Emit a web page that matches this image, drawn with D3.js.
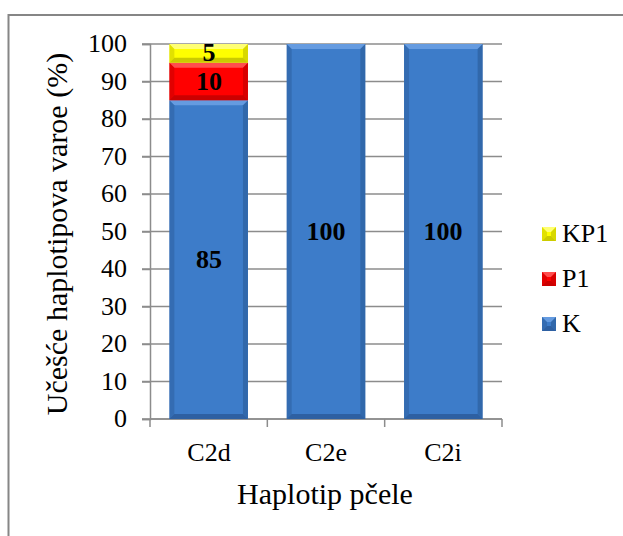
<!DOCTYPE html>
<html><head><meta charset="utf-8">
<script src="https://cdn.jsdelivr.net/npm/d3@7"></script>
<style>
html,body{margin:0;padding:0;background:#fff;}
#wrap{position:relative;width:623px;height:536px;overflow:hidden;}
#wrap svg{position:absolute;left:0;top:0;display:block;}
.lbl{position:absolute;font-family:"Liberation Serif","Times New Roman",serif;font-size:28px;line-height:1;white-space:nowrap;color:#000;transform-origin:0 0;}
</style></head>
<body>
<div id="wrap"><svg id="c" width="623" height="536"></svg></div>
<script>
const categories = ["C2d","C2e","C2i"];
const seriesNames = ["K","P1","KP1"];
const valuesK   = [85,100,100];
const valuesP1  = [10,0,0];
const valuesKP1 = [5,0,0];
const yTicks = [0,10,20,30,40,50,60,70,80,90,100];
const legendOrder = ["KP1","P1","K"];
const xTitle = "Haplotip pčele";
const yTitle = "Učešće haplotipova varoe (%)";
const colors = {K:"#3d7cc9", P1:"#ff0000", KP1:"#ffff00"};
const dark   = {K:"#244f88", P1:"#a80000", KP1:"#a8a800"};
const light  = {K:"#6fa3e6", P1:"#ff6060", KP1:"#ffff90"};

const wrap = d3.select("#wrap");
const svg = d3.select("#c");

// text helper: (x,y) is the anchor point; align: start|middle|end
function label(txt, x, y, size, align, opts){
  opts = opts || {};
  const k = size/28;
  const ax = align==="middle" ? "-50%" : (align==="end" ? "-100%" : "0%");
  const rot = opts.rotate ? " rotate(-90deg)" : "";
  wrap.append("div").attr("class","lbl")
    .style("left", x+"px").style("top", y+"px")
    .style("font-weight", opts.bold ? "bold" : "normal")
    .style("transform", `scale(${k})${rot} translate(${ax},-50%)`)
    .text(txt);
}

svg.append("rect").attr("x",8.5).attr("y",15).attr("width",640).attr("height",560)
  .attr("fill","none").attr("stroke","#868686").attr("stroke-width",2);

const x = d3.scaleBand().domain(categories).range([150,502]).paddingInner(0.33).paddingOuter(0.165);
const y = d3.scaleLinear().domain([0,100]).range([419,44]);

// gridlines
svg.append("g").selectAll("line").data(yTicks).join("line")
  .attr("x1",142).attr("x2",502).attr("y1",d=>y(d)).attr("y2",d=>y(d))
  .attr("stroke","#8c8c8c").attr("stroke-width",1.5);

// y axis (lines from d3 axis, labels as overlay text)
const ya = svg.append("g").attr("transform","translate(150,0)")
  .call(d3.axisLeft(y).tickValues(yTicks).tickSize(8).tickFormat(""));
ya.select(".domain").attr("stroke","#8c8c8c").attr("stroke-width",1.5);
ya.selectAll(".tick line").attr("stroke","#8c8c8c").attr("stroke-width",1.5);
yTicks.forEach(t=> label(String(t), 127, y(t), 26, "end"));

// x axis
const bounds = [150].concat(categories.map(c=>x(c)+x.bandwidth()+x.step()*x.paddingInner()/2));
bounds[bounds.length-1] = 502;
svg.append("g").selectAll("line").data(bounds).join("line")
  .attr("x1",d=>d).attr("x2",d=>d).attr("y1",419).attr("y2",427)
  .attr("stroke","#8c8c8c").attr("stroke-width",1.5);
svg.append("line").attr("x1",150).attr("x2",502).attr("y1",419).attr("y2",419)
  .attr("stroke","#8c8c8c").attr("stroke-width",1.5);
categories.forEach(c=> label(c, x(c)+x.bandwidth()/2, 453, 26, "middle"));

// stacked bars
const rows = categories.map((c,i)=>({cat:c,K:valuesK[i],P1:valuesP1[i],KP1:valuesKP1[i]}));
const stack = d3.stack().keys(seriesNames)(rows);

function bevel(g, x0, x1, y0, y1, key){
  const b = Math.min(5,(y1-y0)/2);
  g.append("rect").attr("x",x0).attr("y",y0).attr("width",x1-x0).attr("height",y1-y0).attr("fill",colors[key]);
  g.append("polygon").attr("points",[[x0,y0],[x1,y0],[x1-b,y0+b],[x0+b,y0+b]].join(" ")).attr("fill",light[key]).attr("opacity",0.8);
  g.append("polygon").attr("points",[[x0,y1],[x1,y1],[x1-b,y1-b],[x0+b,y1-b]].join(" ")).attr("fill",dark[key]).attr("opacity",0.6);
  g.append("polygon").attr("points",[[x0,y0],[x0+b,y0+b],[x0+b,y1-b],[x0,y1]].join(" ")).attr("fill",dark[key]).attr("opacity",0.35);
  g.append("polygon").attr("points",[[x1,y0],[x1-b,y0+b],[x1-b,y1-b],[x1,y1]].join(" ")).attr("fill",dark[key]).attr("opacity",0.45);
}

const barsG = svg.append("g");
stack.forEach(layer=>{
  layer.forEach(d=>{
    if(d[1]-d[0] <= 0) return;
    const x0 = x(d.data.cat), x1 = x0 + x.bandwidth();
    bevel(barsG.append("g"), x0, x1, y(d[1]), y(d[0]), layer.key);
  });
});
stack.forEach(layer=>{
  layer.forEach(d=>{
    const v = d[1]-d[0];
    if(v<=0) return;
    label(String(v), x(d.data.cat)+x.bandwidth()/2, (y(d[0])+y(d[1]))/2, 26, "middle", {bold:true});
  });
});

// axis titles
label(yTitle, 57, 234, 30, "middle", {rotate:true});
label(xTitle, 325, 494, 30, "middle");

// legend
legendOrder.forEach((k,i)=>{
  const yy = 227 + i*45;
  bevel(svg.append("g"), 542, 556, yy, yy+14, k);
  label(k, 562, yy+7, 26, "start");
});
</script>
</body></html>
